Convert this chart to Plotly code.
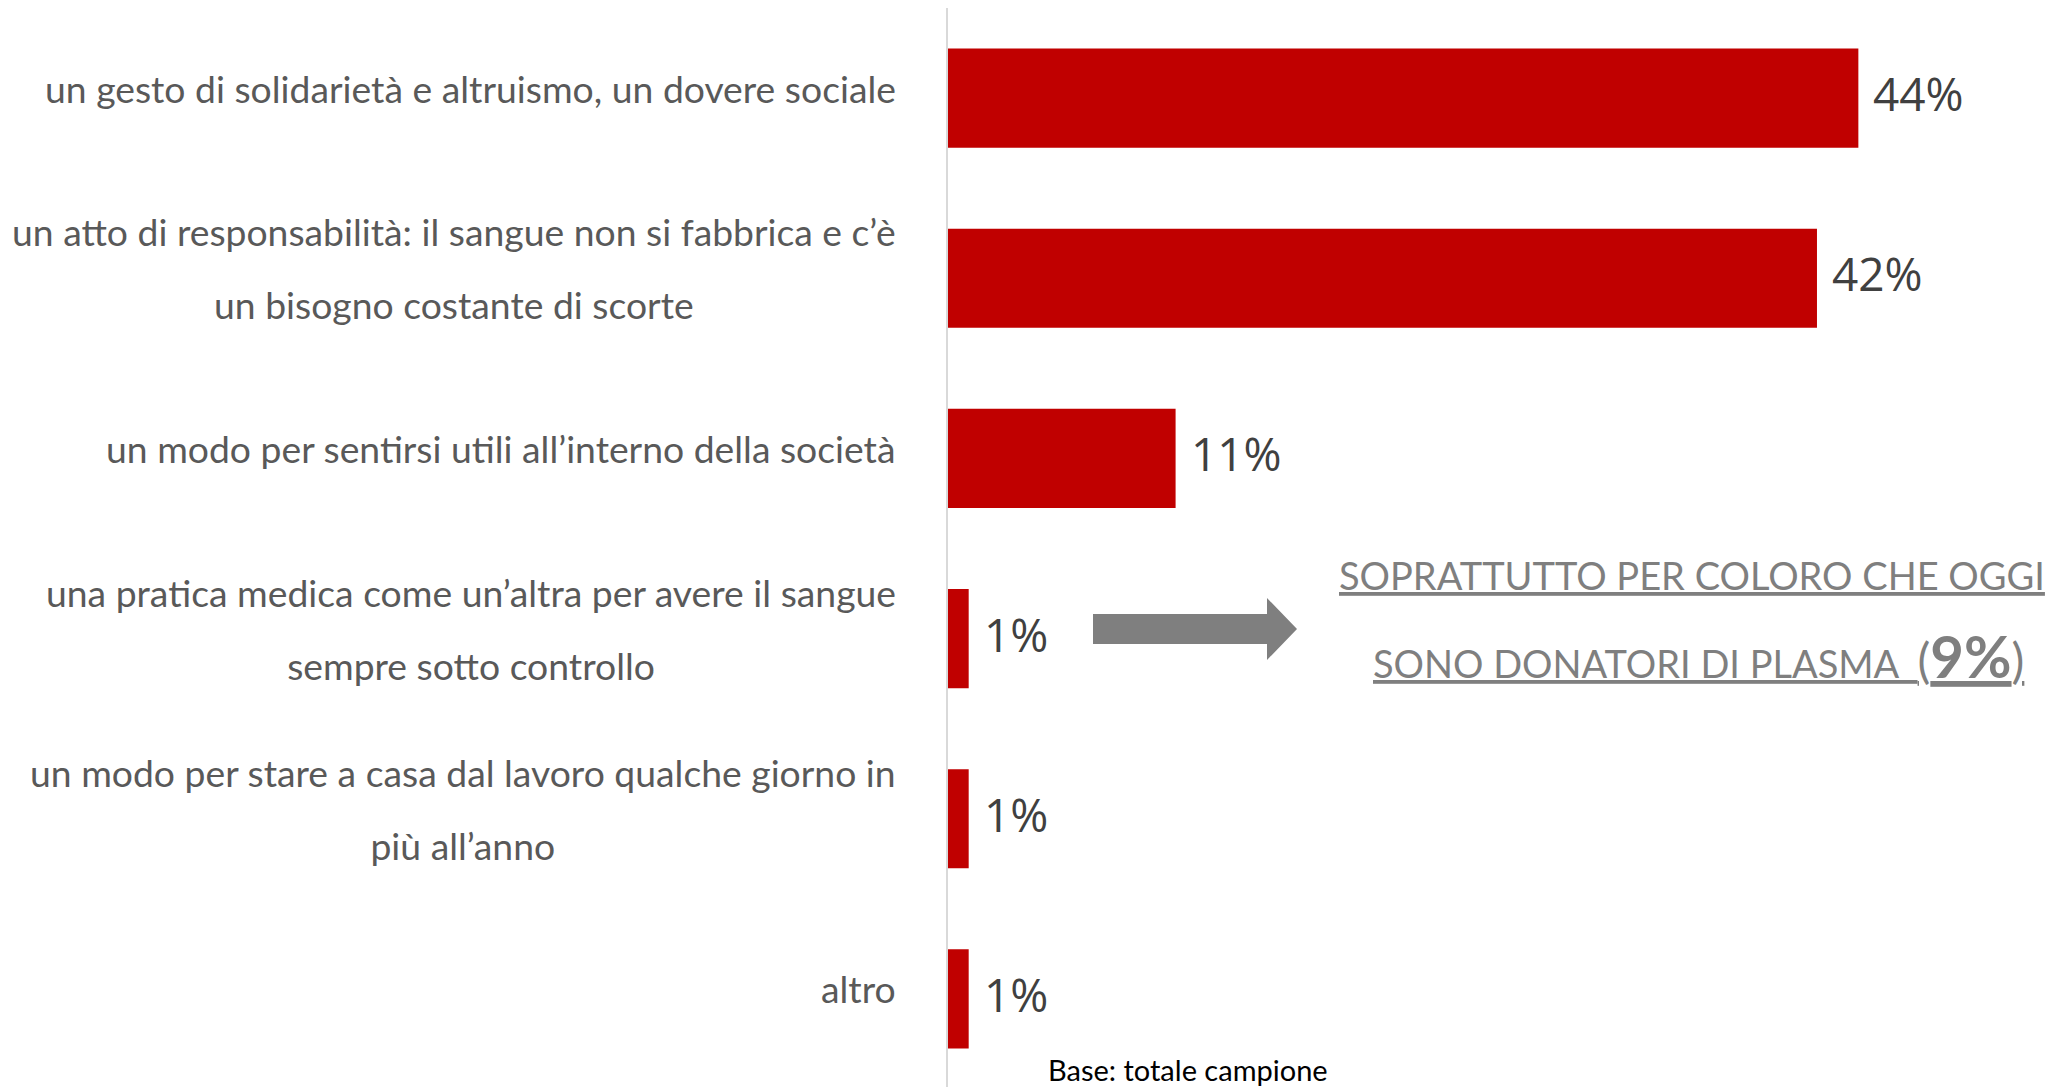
import plotly.graph_objects as go

# ---- data ----
categories = [
    "un gesto di solidarietà e altruismo, un dovere sociale",
    "un atto di responsabilità: il sangue non si fabbrica e c’è<br>un bisogno costante di scorte",
    "un modo per sentirsi utili all’interno della società",
    "una pratica medica come un’altra per avere il sangue<br>sempre sotto controllo",
    "un modo per stare a casa dal lavoro qualche giorno in<br>più all’anno",
    "altro",
]
values = [44, 42, 11, 1, 1, 1]
callout_line1 = "SOPRATTUTTO PER COLORO CHE OGGI"
callout_line2 = "SONO DONATORI DI PLASMA"
callout_value = 9
base_note = "Base: totale campione"

# ---- layout geometry (pixels) ----
W, H = 2055, 1087
OFF = 8  # page body margin
ML, MR, MT, MB = 948 - OFF, 0, 0, 6
PW, PH = W - ML - MR, H - MT - MB


def pxx(x):  # page pixel -> paper x
    return (x - OFF - ML) / PW


def pxy(y):  # page pixel -> paper y
    return 1 - (y - OFF - MT) / PH


LABEL_FONT = "Lato, sans-serif"
BAR_COLOR = "#c00000"

fig = go.Figure()
fig.add_trace(go.Bar(
    x=values,
    y=categories,
    orientation="h",
    marker=dict(color=BAR_COLOR, line=dict(width=0)),
    hoverinfo="skip",
))

annotations = []
# category labels (line spacing via big base font, small span font)
for cat in categories:
    lines = cat.split("<br>")
    txt = "<br>".join(f"<span style='font-size:37.3px'>{ln}</span>" for ln in lines)
    annotations.append(dict(
        xref="paper", yref="y", x=0, y=cat, xanchor="right", yanchor="middle",
        xshift=-50, yshift=10, text=txt, showarrow=False, align="center",
        font=dict(family=LABEL_FONT, size=56, color="#595959"),
    ))
# value labels
for cat, v in zip(categories, values):
    annotations.append(dict(
        xref="x", yref="y", x=v, y=cat, xanchor="left", yanchor="middle",
        xshift=13, yshift=5, text=f"{v}%", showarrow=False,
        font=dict(family="Open Sans, sans-serif", size=46, color="#404040"),
    ))
# callout
annotations.append(dict(
    xref="paper", yref="paper", x=pxx(1692), y=pxy(575), xanchor="center", yanchor="middle",
    text=f"<u>{callout_line1}</u>", showarrow=False,
    font=dict(family=LABEL_FONT, size=38, color="#7f7f7f"),
))
annotations.append(dict(
    xref="paper", yref="paper", x=pxx(1698), y=pxy(655), xanchor="center", yanchor="middle",
    text=(f"<u>{callout_line2}  <span style='font-size:48px'>(</span>"
          f"<span style='font-size:58px;font-weight:bold'>{callout_value}%</span>"
          f"<span style='font-size:48px'>)</span></u>"),
    showarrow=False,
    font=dict(family=LABEL_FONT, size=38, color="#7f7f7f"),
))
# base note
annotations.append(dict(
    xref="paper", yref="paper", x=pxx(1188), y=pxy(1069), xanchor="center", yanchor="middle",
    text=base_note, showarrow=False,
    font=dict(family="Lato, sans-serif", size=29, color="#000000"),
))

# block arrow (page pixels)
ax0, ax1, ax2 = 1093, 1267, 1297
sy0, sy1 = 614, 644
hy0, hy1, ty = 598, 660, 629
path = (f"M {pxx(ax0)},{pxy(sy0)} L {pxx(ax1)},{pxy(sy0)} L {pxx(ax1)},{pxy(hy0)} "
        f"L {pxx(ax2)},{pxy(ty)} L {pxx(ax1)},{pxy(hy1)} L {pxx(ax1)},{pxy(sy1)} "
        f"L {pxx(ax0)},{pxy(sy1)} Z")
shapes = [dict(type="path", xref="paper", yref="paper", path=path,
               fillcolor="#7f7f7f", line=dict(width=0))]

fig.update_layout(
    width=W, height=H,
    margin=dict(l=ML, r=MR, t=MT, b=MB, pad=0),
    paper_bgcolor="white", plot_bgcolor="white",
    bargap=0.45,
    showlegend=False,
    annotations=annotations,
    shapes=shapes,
    xaxis=dict(range=[0, PW / 20.69], visible=False, fixedrange=True),
    yaxis=dict(autorange="reversed", showticklabels=False, showgrid=False,
               zeroline=False, showline=True, linecolor="#d9d9d9", linewidth=2,
               ticks="", fixedrange=True),
)

fig.write_html("out.html")
